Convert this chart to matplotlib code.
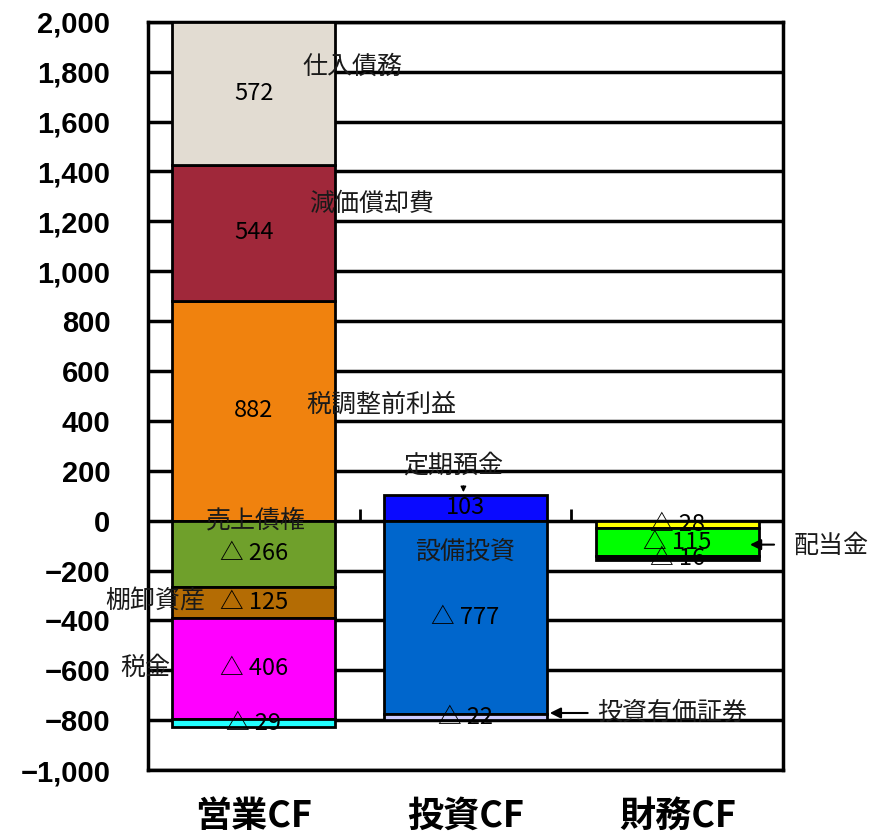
import matplotlib
matplotlib.use('Agg')
import matplotlib.pyplot as plt
import numpy as np

plt.rcParams['font.family'] = ['Noto Sans CJK JP', 'DejaVu Sans']

categories = ['営業CF', '投資CF', '財務CF']

# 営業CF
op_vals = [882, 544, 572, -266, -125, -406, -29]
op_colors = ['#F0820E', '#A0283A', '#E2DCD2', '#6FA02B', '#B46C04', '#FF00FF', '#22FFFF']
# 投資CF
inv_vals = [103, -777, -22]
inv_colors = ['#0A0AFF', '#0066CC', '#CCCCFF']
# 財務CF
fin_vals = [-28, -115, -16]
fin_colors = ['#FFFF00', '#00FF00', '#000000']

stacks = [(op_vals, op_colors), (inv_vals, inv_colors), (fin_vals, fin_colors)]

yticks = np.arange(-1000, 2001, 200)

fig = plt.figure(figsize=(8.8, 8.38), dpi=100)
ax = fig.add_axes([0.168, 0.081, 0.722, 0.893])

width = 0.77
for i, (vals, cols) in enumerate(stacks):
    pos = 0
    neg = 0
    for v, c in zip(vals, cols):
        if v >= 0:
            bottom = pos
            pos += v
        else:
            bottom = neg
            neg += v
        ax.bar(i, v, bottom=bottom, width=width, color=c, edgecolor='black',
               linewidth=2, zorder=3)
        label = f'{v:,}' if v >= 0 else f'△ {abs(v)}'
        ax.text(i, bottom + v / 2, label, ha='center', va='center',
                fontsize=17, color='black', zorder=5)

# item names
names = [
    ('仕入債務', 0.232, 1819, 'left'),
    ('減価償却費', 0.26, 1269, 'left'),
    ('税調整前利益', 0.25, 466, 'left'),
    ('売上債権', 0.01, 0, 'center'),
    ('棚卸資産', -0.23, -325, 'right'),
    ('税金', -0.51, -590, 'center'),
    ('定期預金', 0.94, 222, 'center'),
    ('設備投資', 0.997, -124, 'center'),
    ('投資有価証券', 1.62, -771, 'left'),
    ('配当金', 2.55, -100, 'left'),
]
for txt, x, y, ha in names:
    ax.text(x, y, txt, ha=ha, va='center', fontsize=18, color='#1a1a1a',
            zorder=6, clip_on=False)

arrow = dict(arrowstyle='-|>', color='black', lw=1.5, mutation_scale=16)
ax.annotate('', xy=(1.385, -771), xytext=(1.59, -771), arrowprops=arrow,
            zorder=6, annotation_clip=False)
ax.annotate('', xy=(2.33, -96), xytext=(2.47, -96), arrowprops=arrow,
            zorder=6, annotation_clip=False)
ax.annotate('', xy=(0.99, 103), xytext=(0.99, 150),
            arrowprops=dict(arrowstyle='-|>', color='black', lw=1, mutation_scale=8),
            zorder=6)

# category boundary ticks at the zero line
ax.vlines([0.5, 1.5], 0, 45, color='black', lw=2, zorder=2)

ax.set_xlim(-0.5, 2.5)
ax.set_ylim(-1000, 2000)
ax.set_yticks(yticks)
ax.set_yticklabels([f'{t:,}'.replace('-', '−') for t in yticks],
                   fontsize=21, fontweight='bold', family='Liberation Sans')
ax.set_xticks(range(3))
ax.set_xticklabels(categories, fontsize=26, fontweight='bold')
ax.tick_params(axis='both', length=0)
ax.tick_params(axis='y', pad=27)
ax.tick_params(axis='x', pad=20)
ax.yaxis.grid(True, color='black', lw=2.5, zorder=0)
ax.set_axisbelow(True)
for sp in ax.spines.values():
    sp.set_linewidth(2.5)

fig.savefig('out.png', dpi=100)
